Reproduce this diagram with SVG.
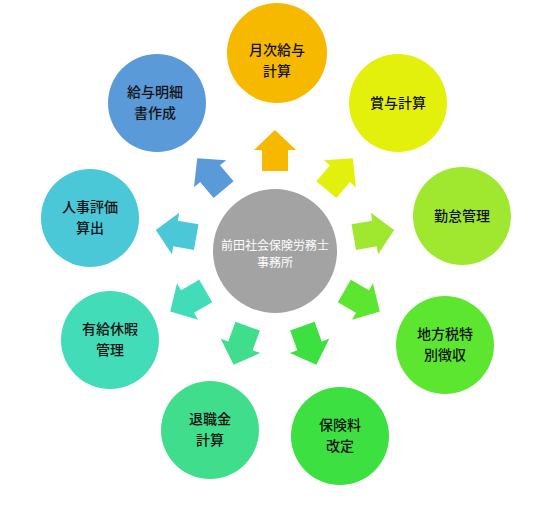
<svg xmlns="http://www.w3.org/2000/svg" width="550" height="506" viewBox="0 0 550 506">
<style>
.t{font-family:"Noto Sans CJK JP","Noto Sans",sans-serif;font-size:14px;fill:#111;text-anchor:middle;font-weight:500}
.c{font-family:"Noto Sans CJK JP","Noto Sans",sans-serif;font-size:12px;fill:#fff;text-anchor:middle}
</style>
<defs>
<path id="arr" d="M-13,0 L13,0 L13,-21 L21,-21 L0,-41 L-21,-21 L-13,-21 Z"/>
</defs>
<rect width="550" height="506" fill="#fff"/>
<g id="connectors">
<use href="#arr" fill="#F7B800" transform="translate(275,251) rotate(0) translate(0,-80)"/>
<use href="#arr" fill="#E2F00C" transform="translate(275,251) rotate(40) translate(0,-80)"/>
<use href="#arr" fill="#A0E830" transform="translate(275,251) rotate(80) translate(0,-80)"/>
<use href="#arr" fill="#5CE630" transform="translate(275,251) rotate(120) translate(0,-80)"/>
<use href="#arr" fill="#3CE040" transform="translate(275,251) rotate(160) translate(0,-80)"/>
<use href="#arr" fill="#40DE8C" transform="translate(275,251) rotate(200) translate(0,-80)"/>
<use href="#arr" fill="#42DDB8" transform="translate(275,251) rotate(240) translate(0,-80)"/>
<use href="#arr" fill="#4AC8D8" transform="translate(275,251) rotate(280) translate(0,-80)"/>
<use href="#arr" fill="#5A9AD8" transform="translate(275,251) rotate(320) translate(0,-80)"/>
</g>
<g id="center">
<circle cx="275" cy="251" r="62" fill="#A3A3A3"/>
<text class="c" x="275" y="250">前田社会保険労務士</text>
<text class="c" x="275" y="267">事務所</text>
</g>
<g id="n1">
<circle cx="277" cy="53" r="50" fill="#F7B800"/>
<text class="t" x="277" y="55">月次給与</text>
<text class="t" x="277" y="76">計算</text>
</g>
<g id="n2">
<circle cx="398" cy="103" r="49" fill="#E2F00C"/>
<text class="t" x="398" y="108">賞与計算</text>
</g>
<g id="n3">
<circle cx="462" cy="216" r="49" fill="#A0E830"/>
<text class="t" x="462" y="221">勤怠管理</text>
</g>
<g id="n4">
<circle cx="445" cy="345" r="49" fill="#5CE630"/>
<text class="t" x="445" y="339">地方税特</text>
<text class="t" x="445" y="360">別徴収</text>
</g>
<g id="n5">
<circle cx="340" cy="436" r="49" fill="#3CE040"/>
<text class="t" x="340" y="430">保険料</text>
<text class="t" x="340" y="451">改定</text>
</g>
<g id="n6">
<circle cx="210" cy="430" r="49" fill="#40DE8C"/>
<text class="t" x="210" y="424">退職金</text>
<text class="t" x="210" y="445">計算</text>
</g>
<g id="n7">
<circle cx="110" cy="340" r="49" fill="#42DDB8"/>
<text class="t" x="110" y="334">有給休暇</text>
<text class="t" x="110" y="355">管理</text>
</g>
<g id="n8">
<circle cx="90" cy="218" r="49" fill="#4AC8D8"/>
<text class="t" x="90" y="212">人事評価</text>
<text class="t" x="90" y="233">算出</text>
</g>
<g id="n9">
<circle cx="157" cy="103" r="49" fill="#5A9AD8"/>
<text class="t" x="155" y="97">給与明細</text>
<text class="t" x="155" y="118">書作成</text>
</g>
</svg>
